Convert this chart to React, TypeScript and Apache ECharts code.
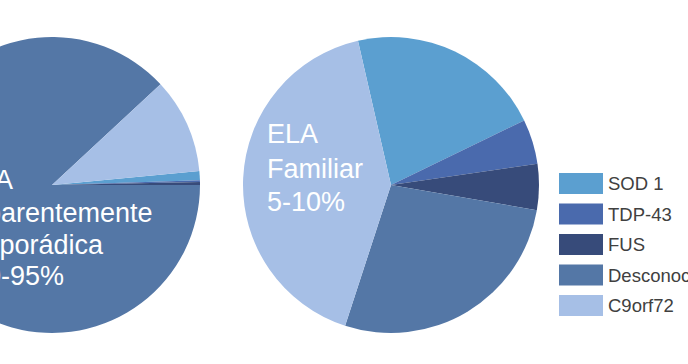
import React, { useEffect, useRef } from "react";
import * as echarts from "echarts";

const categories = ["SOD 1", "TDP-43", "FUS", "Desconocido", "C9orf72"];
const colors = ["#5b9fd0", "#4a6aad", "#374b7a", "#5477a6", "#a6bfe6"];
const esporadicaValues = [1.0, 0.17, 0.33, 88.1, 10.4];
const familiarValues = [21.4, 4.9, 5.0, 27.3, 41.4];
const esporadicaLabel = ["ELA", "aparentemente", "esporádica", "90-95%"];
const familiarLabel = ["ELA", "Familiar", "5-10%"];

const FONT = '"Liberation Sans", Arial, sans-serif';

export default function App() {
  const ref = useRef<HTMLDivElement>(null);
  useEffect(() => {
    if (!ref.current) return;
    const chart = echarts.init(ref.current, null, { renderer: "svg" });
    const mk = (vals: number[]) =>
      categories.map((name, i) => ({ name, value: vals[i], itemStyle: { color: colors[i] } }));
    const leftX = [-38, -29, -29, -29];
    const leftY = [193, 226, 258, 289];
    const rightY = [147, 182, 215];
    const graphics: any[] = [];
    esporadicaLabel.forEach((t, i) => {
      graphics.push({
        type: "text",
        x: leftX[i],
        y: leftY[i],
        z: 100,
        style: { text: t, fill: "#ffffff", fontSize: 27, fontFamily: FONT, verticalAlign: "bottom", align: "left" },
      });
    });
    familiarLabel.forEach((t, i) => {
      graphics.push({
        type: "text",
        x: 267,
        y: rightY[i],
        z: 100,
        style: { text: t, fill: "#ffffff", fontSize: 27, fontFamily: FONT, verticalAlign: "bottom", align: "left" },
      });
    });
    chart.setOption({
      animation: false,
      backgroundColor: "#ffffff",
      legend: {
        orient: "vertical",
        left: 559,
        top: 173,
        itemWidth: 44,
        itemHeight: 21,
        itemGap: 9.5,
        icon: "rect",
        selectedMode: false,
        padding: 0,
        textStyle: { color: "#404040", fontSize: 18.5, fontFamily: FONT },
        data: categories,
      },
      series: [
        {
          type: "pie",
          center: [52, 185],
          radius: 148,
          startAngle: 5.4,
          clockwise: true,
          label: { show: false },
          labelLine: { show: false },
          silent: true,
          data: mk(esporadicaValues),
        },
        {
          type: "pie",
          center: [391, 185],
          radius: 148,
          startAngle: 102.9,
          clockwise: true,
          label: { show: false },
          labelLine: { show: false },
          silent: true,
          data: mk(familiarValues),
        },
      ],
      graphic: graphics,
    });
    return () => chart.dispose();
  }, []);
  return (
    <div
      ref={ref}
      style={{ position: "absolute", left: 0, top: 0, width: 688, height: 364 }}
    />
  );
}
